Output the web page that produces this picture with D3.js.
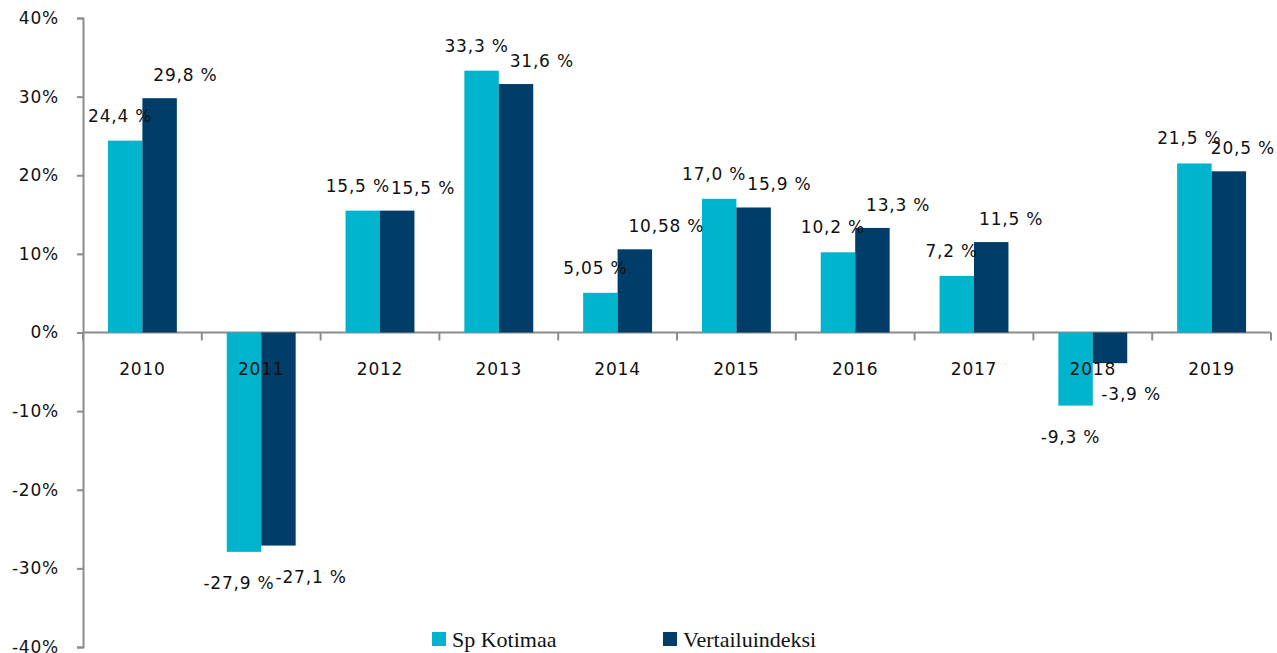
<!DOCTYPE html>
<html>
<head>
<meta charset="utf-8">
<script src="https://cdn.jsdelivr.net/npm/d3@7"></script>
<style>
  body { margin: 0; background: #fff; }
  svg text { font-family: "DejaVu Sans", sans-serif; fill: #111; letter-spacing: 0.8px; }
  svg text.legend { font-family: "Liberation Serif", serif; letter-spacing: 0; }
</style>
</head>
<body>
<svg id="chart" width="1277" height="653"></svg>
<script>
// chart data
var years = ["2010", "2011", "2012", "2013", "2014", "2015", "2016", "2017", "2018", "2019"];
var fundValues = [24.4, -27.9, 15.5, 33.3, 5.05, 17.0, 10.2, 7.2, -9.3, 21.5];
var indexValues = [29.8, -27.1, 15.5, 31.6, 10.58, 15.9, 13.3, 11.5, -3.9, 20.5];
var fundLabels = ["24,4 %", "-27,9 %", "15,5 %", "33,3 %", "5,05 %", "17,0 %", "10,2 %", "7,2 %", "-9,3 %", "21,5 %"];
var indexLabels = ["29,8 %", "-27,1 %", "15,5 %", "31,6 %", "10,58 %", "15,9 %", "13,3 %", "11,5 %", "-3,9 %", "20,5 %"];
var yTicks = [40, 30, 20, 10, 0, -10, -20, -30, -40];
var seriesNames = ["Sp Kotimaa", "Vertailuindeksi"];
var seriesColors = ["#00B4CE", "#003D69"];

var svg = d3.select("#chart");

var x = d3.scaleBand().domain(years).range([83, 1271]).paddingInner(0.42).paddingOuter(0.21);
var y = d3.scaleLinear().domain([-40, 40]).range([647, 18]);
var half = x.bandwidth() / 2;

// y axis
var yAxis = svg.append("g").attr("transform", "translate(83,0)")
    .call(d3.axisLeft(y).tickValues(yTicks).tickSize(6).tickFormat(d => d + "%"));
yAxis.selectAll("path, line").attr("stroke", "#8c8c8c").attr("stroke-width", 2);
yAxis.selectAll("text").attr("font-size", 17).attr("x", -24)
    .style("font-family", "DejaVu Sans").attr("fill", "#111");

// x axis along zero line, ticks between categories
var step = x.step();
var bounds = d3.range(years.length + 1).map(i => 83 + i * step);
svg.append("line").attr("x1", 83).attr("x2", 1271).attr("y1", y(0)).attr("y2", y(0))
    .attr("stroke", "#8c8c8c").attr("stroke-width", 2);
svg.selectAll(".xtick").data(bounds).join("line")
    .attr("x1", d => d).attr("x2", d => d).attr("y1", y(0)).attr("y2", y(0) + 8)
    .attr("stroke", "#8c8c8c").attr("stroke-width", 2);

var series = [fundValues, indexValues];

// bars
series.forEach((vals, s) => {
  svg.append("g").selectAll("rect").data(vals).join("rect")
    .attr("x", (d, i) => x(years[i]) + s * half)
    .attr("width", half)
    .attr("y", d => y(Math.max(0, d)))
    .attr("height", d => Math.abs(y(d) - y(0)))
    .attr("fill", seriesColors[s]);
});

// category labels
svg.append("g").selectAll("text").data(years).join("text")
  .attr("x", d => x(d) + x.bandwidth() / 2)
  .attr("y", y(0) + 42)
  .attr("text-anchor", "middle").attr("font-size", 17)
  .text(d => d);

// value labels
var labelFont = 17;
var tmp = svg.append("text").attr("font-size", labelFont);
function textWidth(t) { tmp.text(t); return tmp.node().getComputedTextLength(); }

fundValues.forEach((v, i) => {
  var cx = x(years[i]) + half / 2 - 5;
  var w1 = textWidth(fundLabels[i]);
  var ly = v >= 0 ? y(v) - 19 : y(v) + 37;
  svg.append("text").attr("x", cx).attr("y", ly).attr("text-anchor", "middle")
    .attr("font-size", labelFont).text(fundLabels[i]);

  var v2 = indexValues[i];
  var w2 = textWidth(indexLabels[i]);
  var nx = Math.max(x(years[i]) + half, cx + w1 / 2 + 1);
  nx = Math.min(nx, 1275 - w2); // keep inside the right edge
  var ly2 = v2 >= 0 ? y(v2) - 17 : y(v2) + 37;
  if (v2 < 0 && v < 0) ly2 = Math.min(ly2, ly - 6);
  svg.append("text").attr("x", nx).attr("y", ly2)
    .attr("font-size", labelFont).text(indexLabels[i]);
});
tmp.remove();

// legend
var legendX = [432, 663];
seriesNames.forEach((name, s) => {
  svg.append("rect").attr("x", legendX[s]).attr("y", 632).attr("width", 14).attr("height", 14)
    .attr("fill", seriesColors[s]);
  svg.append("text").attr("class", "legend").attr("x", legendX[s] + 20).attr("y", 647)
    .attr("font-size", 22).text(name);
});
</script>
</body>
</html>
